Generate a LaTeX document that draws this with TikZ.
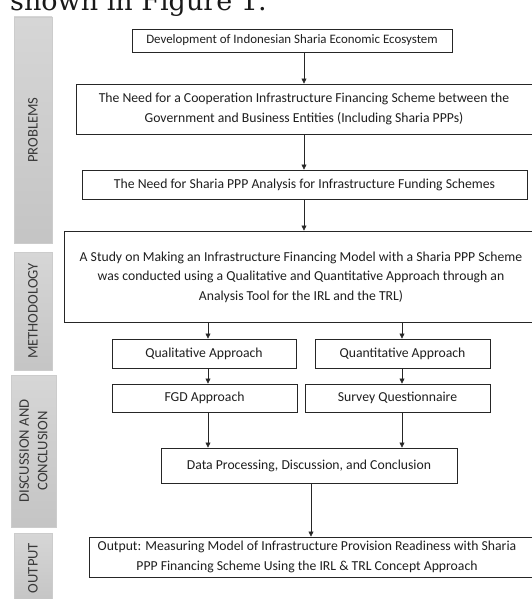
\documentclass[tikz,border=0pt]{standalone}
\usepackage{fontspec}
\setmainfont{Carlito}
\newfontfamily\serifcap{DejaVu Serif}
\usetikzlibrary{arrows.meta}
\begin{document}
\begin{tikzpicture}[x=1pt,y=-1pt,
  frame/.style={draw=black!85, line width=0.9pt, fill=white, inner sep=0pt},
  txt/.style={inner sep=0pt, align=center, font=\fontsize{13.7}{19.5}\selectfont, text=black!88},
  box/.style={frame, align=center, font=\fontsize{13.7}{19.5}\selectfont, text=black!88},
  band/.style={draw=black!20, line width=0.6pt, top color=black!16, bottom color=black!23, inner sep=0pt},
  bandtext/.style={rotate=90, inner sep=0pt, align=center, font=\fontsize{14.6}{18.5}\selectfont, text=black!78},
  arr/.style={draw=black!85, line width=0.6pt, -{Triangle[length=5pt,width=5pt]}}
]
\useasboundingbox (0,0) rectangle (532,599);

% caption fragment above the figure
\node[anchor=base west, inner sep=0pt, font=\serifcap\fontsize{27}{27}\selectfont, text=black!90] (cap) at (10,11) {shown in Figure 1.};

% side bands
\node[band, minimum width=38pt, minimum height=226pt] (bp) at (33,130) {};
\node[bandtext] (bpt) at (bp.center) {PROBLEMS};
\node[band, minimum width=38pt, minimum height=118pt] (bm) at (33,311) {};
\node[bandtext] (bmt) at (bm.center) {METHODOLOGY};
\node[band, minimum width=45pt, minimum height=152pt] (bd) at (33.5,451) {};
\node[bandtext] (bdt) at (bd.center) {DISCUSSION AND\\CONCLUSION};
\node[band, minimum width=38pt, minimum height=70pt] (bo) at (33,568) {};
\node[bandtext] (bot) at (bo.center) {OUTPUT};

% boxes
\node[box, font=\fontsize{12.9}{19.5}\selectfont, minimum width=320pt, minimum height=23pt] (b1) at (292,40.5) {Development of Indonesian Sharia Economic Ecosystem};
\node[frame, minimum width=472pt, minimum height=50pt] (b2) at (312,109) {};
\node[txt] (b2t) at (304,109) {The Need for a Cooperation Infrastructure Financing Scheme between the\\Government and Business Entities (Including Sharia PPPs)};
\node[box, minimum width=445pt, minimum height=29pt] (b3) at (304.5,184.5) {The Need for Sharia PPP Analysis for Infrastructure Funding Schemes};
\node[frame, minimum width=484pt, minimum height=91pt] (b4) at (306,276.5) {};
\node[txt] (b4t) at (301,277) {A Study on Making an Infrastructure Financing Model with a Sharia PPP Scheme\\was conducted using a Qualitative and Quantitative Approach through an\\Analysis Tool for the IRL and the TRL)};
\node[box, minimum width=184pt, minimum height=29pt] (ql) at (204,353.5) {Qualitative Approach};
\node[box, minimum width=175pt, minimum height=29pt] (qn) at (402.5,353.5) {Quantitative Approach};
\node[box, minimum width=185pt, minimum height=28pt] (fgd) at (204.5,398) {FGD Approach};
\node[box, minimum width=185pt, minimum height=28pt] (sv) at (397.5,398) {Survey Questionnaire};
\node[box, minimum width=296pt, minimum height=35pt] (dp) at (309,465.5) {Data Processing, Discussion, and Conclusion};
\node[frame, minimum width=459pt, minimum height=40pt] (out) at (318.5,557) {};
\node[txt] (outt) at (307,557) {Output: Measuring Model of Infrastructure Provision Readiness with Sharia\\PPP Financing Scheme Using the IRL \& TRL Concept Approach};

% arrow axes
\coordinate (ax) at (304,0);
\coordinate (al) at (208,0);
\coordinate (ar) at (402,0);
\coordinate (ao) at (311,0);

% connectors
\draw[arr] (ax |- b1.south) -- (ax |- b2.north);
\draw[arr] (ax |- b2.south) -- (ax |- b3.north);
\draw[arr] (ax |- b3.south) -- (ax |- b4.north);
\draw[arr] (al |- b4.south) -- (al |- ql.north);
\draw[arr] (ar |- b4.south) -- (ar |- qn.north);
\draw[arr] (al |- ql.south) -- (al |- fgd.north);
\draw[arr] (ar |- qn.south) -- (ar |- sv.north);
\draw[arr] (al |- fgd.south) -- (al |- dp.north);
\draw[arr] (ar |- sv.south) -- (ar |- dp.north);
\draw[arr] (ao |- dp.south) -- (ao |- out.north);
\end{tikzpicture}
\end{document}
